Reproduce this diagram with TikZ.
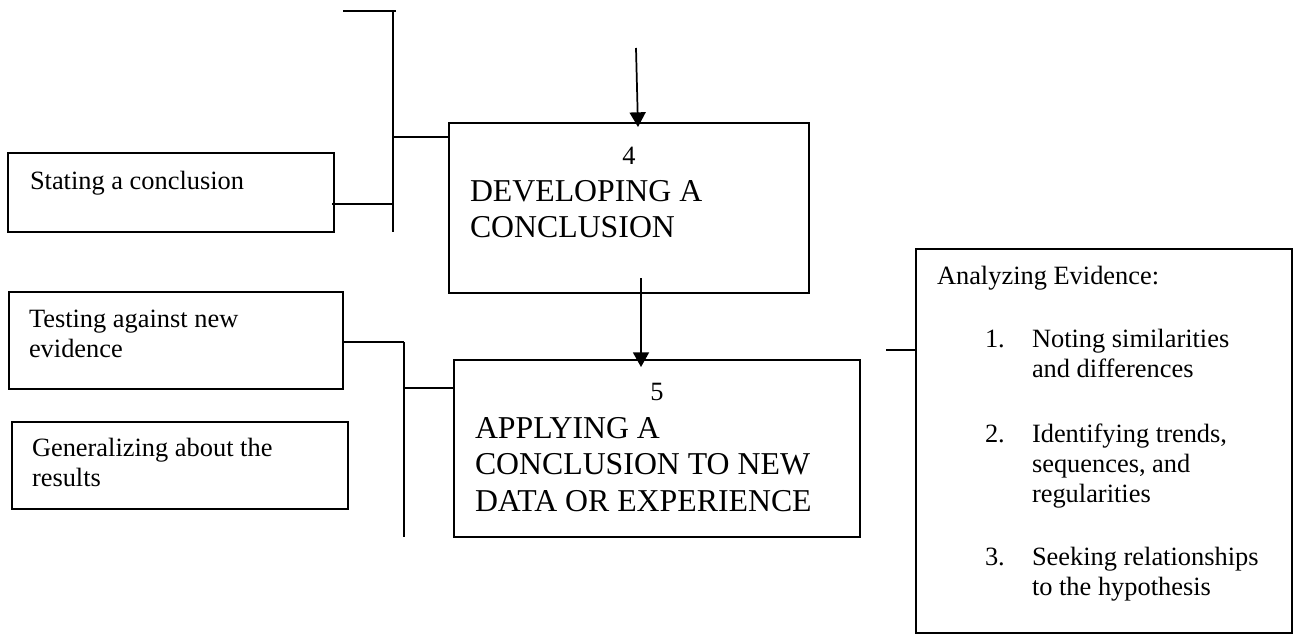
\documentclass[tikz,border=0pt]{standalone}
\usepackage{fontspec}
\setmainfont{Liberation Serif}
\usetikzlibrary{arrows.meta}
\newcommand{\mylines}[1]{\begin{tabular}[t]{@{}l@{}}#1\end{tabular}}
\tikzset{
  box/.style={draw, line width=1.5pt, inner sep=0pt, outer sep=0pt, anchor=north west},
  conn/.style={line width=1.5pt},
  arr/.style={line width=1.3pt, -{Triangle[width=12pt,length=11pt]}},
  small/.style={inner sep=0pt, outer sep=0pt, anchor=base west, font=\fontsize{19.8}{22.5}\selectfont},
  big/.style={inner sep=0pt, outer sep=0pt, anchor=base west, font=\fontsize{23.85}{27.5}\selectfont},
}
\begin{document}
\begin{tikzpicture}[x=0.75pt,y=-0.75pt]
\useasboundingbox (0,0) rectangle (1299,635);

% boxes
\node[box, minimum width=270pt,   minimum height=127.5pt]  (b4)   at (449,123) {};
\node[box, minimum width=304.5pt, minimum height=132.75pt] (b5)   at (454,360) {};
\node[box, minimum width=244.5pt, minimum height=59.25pt]  (stat) at (8,153) {};
\node[box, minimum width=250.5pt, minimum height=72.75pt]  (test) at (9,292) {};
\node[box, minimum width=252pt,   minimum height=65.25pt]  (gen)  at (12,422) {};
\node[box, minimum width=282pt,   minimum height=288pt]    (ana)  at (916,249) {};

% texts
\node[small, anchor=base] (n4) at (629,164) {4};
\node[big] (t4) at (470,201) {\mylines{DEVELOPING A\\CONCLUSION}};
\node[small, anchor=base] (n5) at (657,400) {5};
\node[big] (t5) at (475,438) {\mylines{APPLYING A\\CONCLUSION TO NEW\\DATA OR EXPERIENCE}};
\node[small] (tstat) at (30,189) {Stating a conclusion};
\node[small] (ttest) at (29,327) {\mylines{Testing against new\\evidence}};
\node[small] (tgen) at (32,456) {\mylines{Generalizing about the\\results}};
\node[small] (tana) at (937,284) {Analyzing Evidence:};
\node[small] (i1) at (985,347) {1.};
\node[small] (l1) at (1032,347) {\mylines{Noting similarities\\and differences}};
\node[small] (i2) at (985,442) {2.};
\node[small] (l2) at (1032,442) {\mylines{Identifying trends,\\sequences, and\\regularities}};
\node[small] (i3) at (985,565) {3.};
\node[small] (l3) at (1032,565) {\mylines{Seeking relationships\\to the hypothesis}};

% top-left bracket
\coordinate (ta) at (343,11);
\coordinate (tb) at (396,11);
\coordinate (va) at (393,11);
\coordinate (vb) at (393,232);
\coordinate (j4) at (393,137);
\coordinate (js) at (393,204);
\draw[conn] (ta) -- (tb);
\draw[conn] (va) -- (vb);
\draw[conn] (j4) -- (j4 -| b4.west);
\draw[conn] ([xshift=-1.5pt]stat.east |- js) -- (js);

% left-middle bracket
\coordinate (ka) at (404,342);
\coordinate (kb) at (404,537);
\coordinate (k5) at (404,388);
\draw[conn] (test.east |- ka) -- (ka);
\draw[conn] (ka) -- (kb);
\draw[conn] (k5) -- (k5 -| b5.west);

% short line to analyzing box
\coordinate (m0) at (886,350);
\draw[conn] (m0) -- (m0 -| ana.west);

% arrows
\coordinate (a0) at (636,48);
\draw[arr] (a0) -- ([shift={(9,4)}]b4.north);
\draw[arr] ([shift={(12,-15)}]b4.south) -- ([shift={(-16,7)}]b5.north);
\end{tikzpicture}
\end{document}
